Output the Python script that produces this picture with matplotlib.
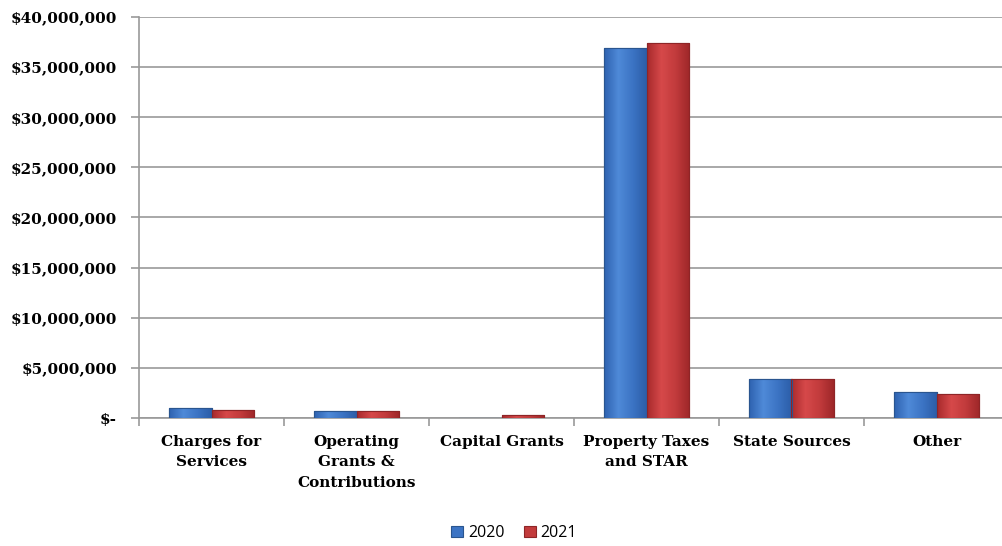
import matplotlib
matplotlib.use("Agg")
import matplotlib.pyplot as plt
import numpy as np
from matplotlib.colors import LinearSegmentedColormap

categories = ["Charges for\nServices", "Operating\nGrants &\nContributions", "Capital Grants",
              "Property Taxes\nand STAR", "State Sources", "Other"]
values_2020 = [1000000, 700000, 0, 36900000, 3900000, 2600000]
values_2021 = [800000, 700000, 300000, 37400000, 3900000, 2350000]
series_names = ["2020", "2021"]
yticks = [0, 5000000, 10000000, 15000000, 20000000, 25000000, 30000000, 35000000, 40000000]
ytick_labels = ["$-", "$5,000,000", "$10,000,000", "$15,000,000", "$20,000,000",
                "$25,000,000", "$30,000,000", "$35,000,000", "$40,000,000"]

fig = plt.figure(figsize=(10.02, 5.46), dpi=100)
ax = fig.add_axes([139/1002, 1-418/546, (1009-139)/1002, (418-17)/546])

x = np.arange(len(categories))
w = 0.29
blue_cmap = LinearSegmentedColormap.from_list("b", ["#2E62B0", "#4F8AD8", "#3C74C4", "#2C5EA8"])
red_cmap = LinearSegmentedColormap.from_list("r", ["#A82A2C", "#D6494A", "#C23B3C", "#9E2729"])
grad = np.linspace(0, 1, 64).reshape(1, -1)

for vals, off, col, edge, cmap, lab in [
        (values_2020, -w/2, "#3C74C4", "#2A558F", blue_cmap, series_names[0]),
        (values_2021, w/2, "#C23B3C", "#8E2527", red_cmap, series_names[1])]:
    bars = ax.bar(x + off, vals, width=w, color=col, edgecolor=edge, linewidth=0.8,
                  label=lab, zorder=3)
    for b in bars:
        if b.get_height() <= 0:
            continue
        x0, y0 = b.get_x(), b.get_y()
        im = ax.imshow(grad, cmap=cmap, aspect="auto", zorder=3.5,
                       extent=[x0, x0 + b.get_width(), y0, y0 + b.get_height()])
        im.set_clip_path(b)
        ax.bar(b.get_x() + b.get_width()/2, b.get_height(), width=b.get_width(),
               fill=False, edgecolor=edge, linewidth=0.8, zorder=4)

ax.set_xlim(-0.5, len(categories) - 0.5)
ax.set_ylim(0, 40000000)
ax.set_yticks(yticks)
ax.set_yticklabels(ytick_labels, family="DejaVu Serif", fontweight="bold", fontsize=11)
ax.set_xticks(x)
ax.set_xticklabels(categories, family="DejaVu Serif", fontweight="bold", fontsize=11,
                   va="top", linespacing=1.6)
ax.set_xticks(np.arange(-0.5, len(categories)), minor=True)
ax.tick_params(axis="x", which="major", length=0, pad=12)
ax.tick_params(axis="x", which="minor", length=6, color="#999999", width=1.2)
ax.tick_params(axis="y", length=6, color="#999999", width=1.2, pad=10)
ax.grid(axis="y", color="#999999", linewidth=1.2, zorder=0)
ax.set_axisbelow(True)
for s in ["top", "right"]:
    ax.spines[s].set_visible(False)
ax.spines["left"].set_color("#999999")
ax.spines["left"].set_linewidth(1.2)
ax.spines["bottom"].set_color("#999999")
ax.spines["bottom"].set_linewidth(1.2)

h, l = ax.get_legend_handles_labels()
fig.legend(h[:2], l[:2], loc="center", bbox_to_anchor=(514/1002, 1-533/546), ncol=2,
           frameon=False, prop={"family": "Open Sans", "size": 11.5},
           handlelength=0.75, handleheight=0.75, handletextpad=0.3, columnspacing=1.2)

fig.savefig("out.png", dpi=100)
